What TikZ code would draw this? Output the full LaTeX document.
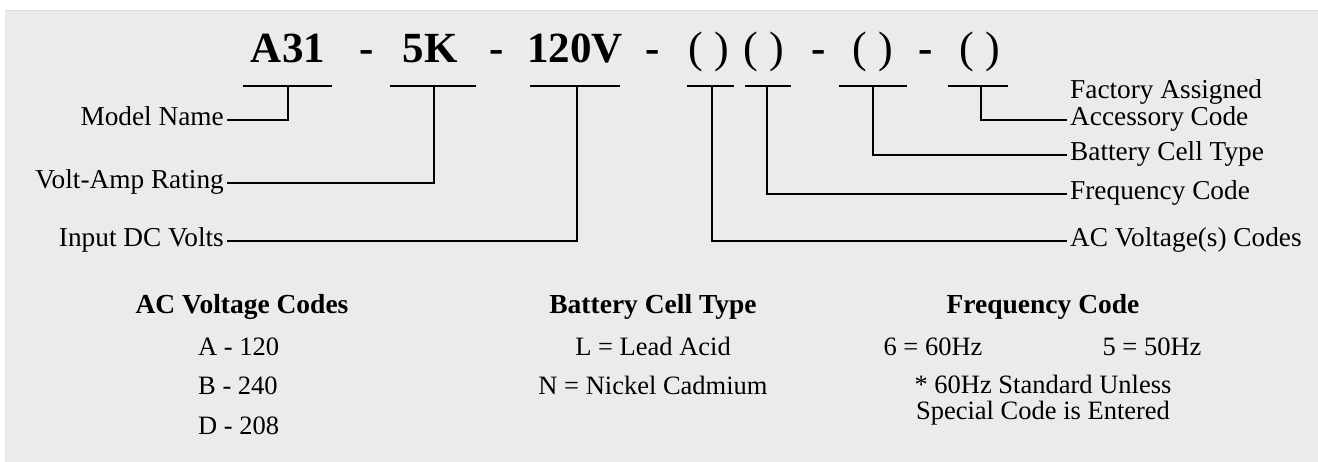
\documentclass[tikz,border=0pt]{standalone}
\usepackage{fontspec}
\setmainfont{Liberation Serif}
\begin{document}
\begin{tikzpicture}[x=1pt,y=-1pt,
  code/.style={inner sep=0pt,anchor=base,font=\fontsize{43}{48}\selectfont\bfseries},
  paren/.style={inner sep=0pt,anchor=base,font=\fontsize{44}{48}\selectfont},
  lbl/.style={inner xsep=3pt,inner ysep=0pt,text height=18pt,text depth=6pt,font=\fontsize{27.3}{30}\selectfont},
  head/.style={inner sep=0pt,anchor=base,font=\fontsize{27.5}{30}\selectfont\bfseries},
  body/.style={inner sep=0pt,anchor=base,font=\fontsize{26.5}{30}\selectfont},
  bar/.style={line width=2.4pt},
  conn/.style={line width=2.4pt}]
\useasboundingbox (0,0) rectangle (1318,462);
\fill[white] (0,0) rectangle (1318,462);
\fill[gray!16] (5,10) rectangle (1318,462);
\draw[gray!25,line width=1pt] (5,10.5) -- (1318,10.5);
% code string
\node[code] (cA) at (288,63) {A31};
\node[code] (d1) at (367,63) {-};
\node[code] (cB) at (430,63) {5K};
\node[code] (d2) at (497,63) {-};
\node[code] (cC) at (575,63) {120V};
\node[code] (d3) at (653,63) {-};
\node[paren] (cD) at (709,63) {( )};
\node[paren] (cE) at (764,63) {( )};
\node[code] (d4) at (819,63) {-};
\node[paren] (cF) at (873,63) {( )};
\node[code] (d5) at (926,63) {-};
\node[paren] (cG) at (980,63) {( )};
% underlines
\draw[bar] (243,86) -- (332,86); \coordinate (uA) at (288,86);
\draw[bar] (390,86) -- (476,86); \coordinate (uB) at (434,86);
\draw[bar] (530,86) -- (620,86); \coordinate (uC) at (577,86);
\draw[bar] (687,86) -- (734,86); \coordinate (uD) at (712,86);
\draw[bar] (745,86) -- (791,86); \coordinate (uE) at (767,86);
\draw[bar] (839,86) -- (907,86); \coordinate (uF) at (873,86);
\draw[bar] (948,86) -- (1008,86); \coordinate (uG) at (981,86);
% left labels
\node[lbl,anchor=east] (lModel) at (227,120) {Model Name};
\node[lbl,anchor=east] (lVolt) at (227,183) {Volt-Amp Rating};
\node[lbl,anchor=east] (lInput) at (227,241) {Input DC Volts};
% right labels
\node[lbl,anchor=base west] (lFac) at (1067,99) {Factory Assigned};
\node[lbl,anchor=west] (lAcc) at (1067,120) {Accessory Code};
\node[lbl,anchor=west] (lBat) at (1067,155) {Battery Cell Type};
\node[lbl,anchor=west] (lFreq) at (1067,194) {Frequency Code};
\node[lbl,anchor=west] (lAC) at (1067,241) {AC Voltage(s) Codes};
% connectors
\draw[conn] (uA) |- (lModel.east);
\draw[conn] (uB) |- (lVolt.east);
\draw[conn] (uC) |- (lInput.east);
\draw[conn] (uD) |- (lAC.west);
\draw[conn] (uE) |- (lFreq.west);
\draw[conn] (uF) |- (lBat.west);
\draw[conn] (uG) |- (lAcc.west);
% tables
\node[head] (hAC) at (242,314) {AC Voltage Codes};
\node[body,anchor=base west] (a1) at (198,356) {A - 120};
\node[body,anchor=base west] (a2) at (198,395) {B - 240};
\node[body,anchor=base west] (a3) at (198,434) {D - 208};
\node[head] (hBat) at (653,314) {Battery Cell Type};
\node[body] (b1) at (653,356) {L = Lead Acid};
\node[body] (b2) at (653,395) {N = Nickel Cadmium};
\node[head] (hFreq) at (1043,314) {Frequency Code};
\node[body] (f1) at (933,356) {6 = 60Hz};
\node[body] (f2) at (1152,356) {5 = 50Hz};
\node[body] (f3) at (1043,394) {* 60Hz Standard Unless};
\node[body] (f4) at (1043,420) {Special Code is Entered};
\end{tikzpicture}
\end{document}
